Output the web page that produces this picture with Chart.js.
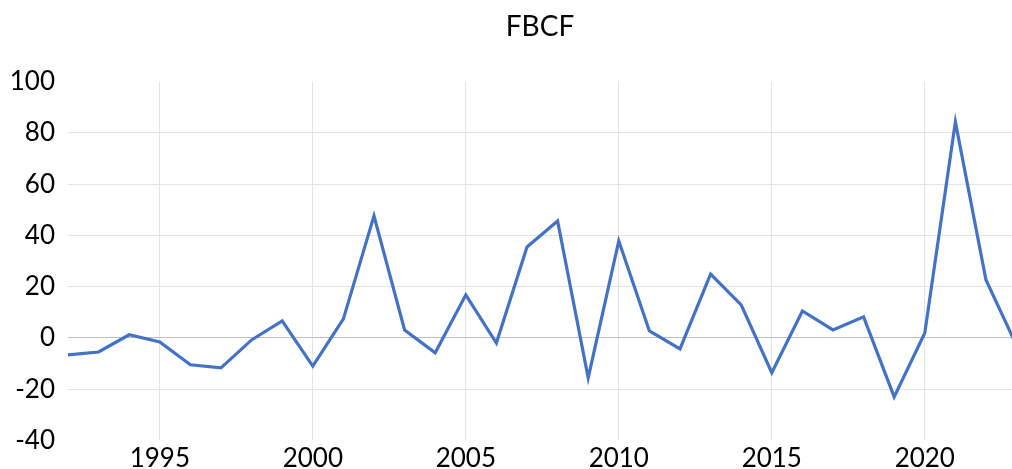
<!DOCTYPE html>
<html>
<head>
<meta charset="utf-8">
<script src="https://cdn.jsdelivr.net/npm/chart.js@4"></script>
<style>
  html, body { margin: 0; padding: 0; background: #fff; overflow: hidden; }
  #wrap { width: 1012px; height: 469px; position: relative; }
</style>
</head>
<body>
<div id="wrap"><canvas id="chart"></canvas></div>
<script>
// FBCF yearly variation (%)
const years = [1992, 1993, 1994, 1995, 1996, 1997, 1998, 1999, 2000, 2001,
    2002, 2003, 2004, 2005, 2006, 2007, 2008, 2009, 2010, 2011, 2012, 2013,
    2014, 2015, 2016, 2017, 2018, 2019, 2020, 2021, 2022, 2023];
const fbcf = [-6.6, -5.5, 1.2, -1.6, -10.5, -11.7, -0.8, 6.6, -11, 7.4,
    47.6, 3.1, -5.8, 16.8, -2, 35.5, 45.6, -15.6, 37.8, 2.7, -4.3, 24.9,
    12.9, -13.6, 10.5, 3.1, 8.2, -23, 1.9, 84.3, 22.6, -3];
const tickYears = [1995, 2000, 2005, 2010, 2015, 2020];

const FONT = "Lato, 'Open Sans', sans-serif";
const GRID = "#e4e4e4";

const ctx = document.getElementById("chart").getContext("2d");
new Chart(ctx, {
    type: "line",
    data: {
        datasets: [
            {
                label: "FBCF",
                data: years.map((y, i) => ({ x: y, y: fbcf[i] })),
                borderColor: "#4472c4",
                borderWidth: 3.2,
                pointRadius: 0,
                tension: 0,
                fill: false,
            },
        ],
    },
    options: {
        responsive: true,
        maintainAspectRatio: false,
        animation: false,
        layout: { padding: { left: 0, right: 0, top: 0, bottom: 0 } },
        plugins: {
            legend: { display: false },
            tooltip: { enabled: false },
            title: {
                display: true,
                text: "FBCF",
                color: "#000",
                fullSize: false,
                font: { family: FONT, size: 28, weight: "normal" },
                padding: { top: 10, bottom: 38 },
            },
        },
        scales: {
            x: {
                type: "linear",
                min: years[0],
                max: 2022.85,
                afterBuildTicks: (scale) => {
                    scale.ticks = tickYears.map((v) => ({ value: v }));
                },
                afterFit: (scale) => {
                    scale.height = 27;
                },
                grid: { color: GRID, lineWidth: 1, drawTicks: false },
                border: { display: false },
                ticks: {
                    color: "#000",
                    padding: 3,
                    maxRotation: 0,
                    font: { family: FONT, size: 26 },
                    callback: (v) => String(v),
                },
            },
            y: {
                min: -40,
                max: 100,
                afterFit: (scale) => {
                    scale.width = 68;
                },
                grid: {
                    drawTicks: false,
                    lineWidth: 1,
                    color: (c) => {
                        if (c.tick.value === 0) return "#bfbfbf";
                        if (c.tick.value === 100 || c.tick.value === -40) return "rgba(0,0,0,0)";
                        return GRID;
                    },
                },
                border: { display: false },
                ticks: {
                    stepSize: 20,
                    color: "#000",
                    padding: 13,
                    font: { family: FONT, size: 26 },
                },
            },
        },
    },
});
</script>
</body>
</html>
